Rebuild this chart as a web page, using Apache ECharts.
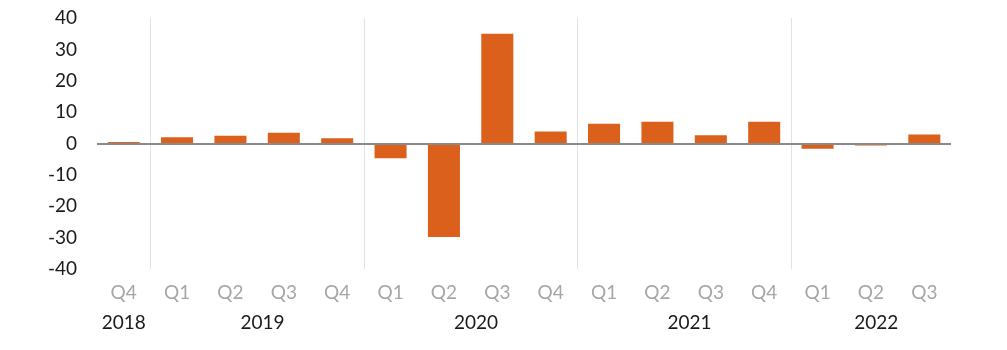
<!DOCTYPE html>
<html><head><meta charset="utf-8">
<script src="https://cdn.jsdelivr.net/npm/echarts@6/dist/echarts.min.js"></script>
<style>html,body{margin:0;padding:0;background:#fff}#c{width:1007px;height:350px}</style>
</head><body><div id="c"></div>
<script>
const quarters = ['Q4','Q1','Q2','Q3','Q4','Q1','Q2','Q3','Q4','Q1','Q2','Q3','Q4','Q1','Q2','Q3'];
const values = [0.5, 2.0, 2.5, 3.4, 1.7, -4.7, -29.8, 35.0, 3.8, 6.3, 6.9, 2.6, 6.9, -1.7, -0.6, 2.9];
const years = ['2018', '2019', '2020', '2021', '2022'];
const yearSpans = [1, 4, 4, 4, 3];
const yMin = -40, yMax = 40, yStep = 10;

// year label centres (in category units) and group boundaries
const yearCentres = [];
const boundaries = [];
let acc = 0;
yearSpans.forEach((s, i) => {
  yearCentres.push({pos: acc + s / 2 + (i === 0 ? 0 : 0.1), label: years[i]});
  acc += s;
  if (i < yearSpans.length - 1) boundaries.push(acc);
});

const FONT = 'Lato';
const chart = echarts.init(document.getElementById('c'));
chart.setOption({
  animation: false,
  grid: {left: 97, right: 56, top: 18, bottom: 81, containLabel: false},
  xAxis: [{
    type: 'category',
    data: quarters,
    position: 'bottom',
    axisLine: {show: false, onZero: false},
    axisTick: {show: false},
    axisLabel: {color: '#a6a6a6', fontFamily: FONT, fontSize: 19, margin: 14},
    splitLine: {show: false}
  }, {
    type: 'value',
    min: 0, max: quarters.length, interval: 0.05,
    position: 'bottom',
    offset: 30,
    axisLine: {show: false, onZero: false},
    axisTick: {show: false},
    splitLine: {show: false},
    axisLabel: {
      color: '#1a1a1a', fontFamily: FONT, fontSize: 19, margin: 14,
      showMinLabel: true, showMaxLabel: true,
      formatter: (v) => {
        const f = yearCentres.find(y => Math.abs(y.pos - v) < 0.01);
        return f ? f.label : '';
      }
    }
  }],
  yAxis: {
    type: 'value', min: yMin, max: yMax, interval: yStep,
    axisLine: {show: false},
    axisTick: {show: false},
    splitLine: {show: false},
    axisLabel: {color: '#1a1a1a', fontFamily: FONT, fontSize: 19, margin: 20}
  },
  series: [{
    type: 'line',
    xAxisIndex: 1,
    data: [],
    silent: true,
    markLine: {
      silent: true,
      symbol: 'none',
      label: {show: false},
      lineStyle: {color: '#e2e2e2', width: 1, type: 'solid'},
      data: boundaries.map(b => ({xAxis: b}))
    }
  }, {
    type: 'bar',
    xAxisIndex: 0,
    data: values,
    barWidth: '60%',
    itemStyle: {color: '#da601b'},
    markLine: {
      silent: true,
      symbol: 'none',
      label: {show: false},
      lineStyle: {color: '#8a8a8a', width: 2, type: 'solid'},
      data: [{yAxis: 0}]
    }
  }]
});
</script></body></html>
